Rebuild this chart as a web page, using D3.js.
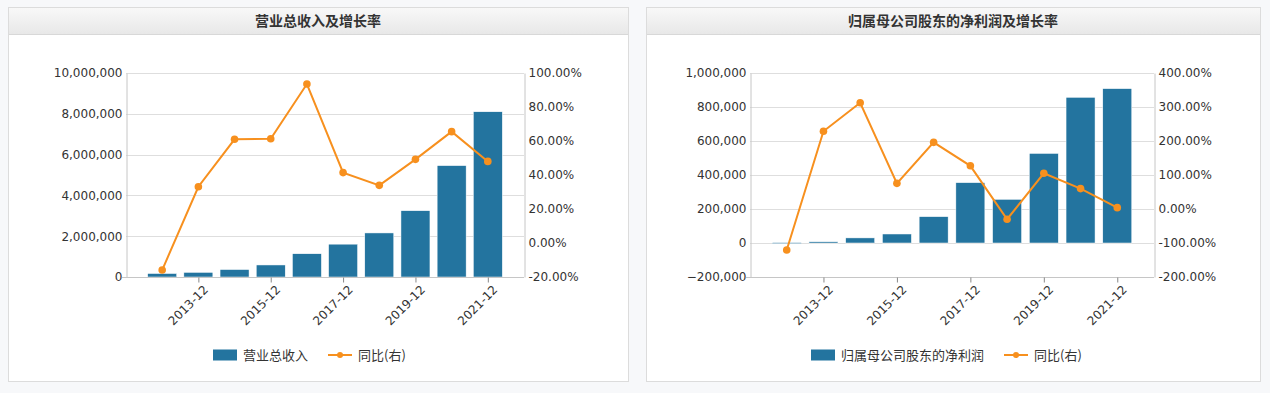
<!DOCTYPE html>
<html>
<head>
<meta charset="utf-8">
<script src="https://cdn.jsdelivr.net/npm/d3@7/dist/d3.min.js"></script>
<style>
    body { margin: 0; background: #f7f8fa; }
    svg { display: block; }
    text { font-family: "DejaVu Sans", Verdana, sans-serif; fill: #333; }
    .cjk { font-family: "Noto Sans CJK SC", "DejaVu Sans", sans-serif; }
</style>
</head>
<body>
<svg id="chart" width="1270" height="393"></svg>
<script>
const years = ['2012-12', '2013-12', '2014-12', '2015-12', '2016-12', '2017-12', '2018-12', '2019-12', '2020-12', '2021-12'];
const tickYears = ['2013-12', '2015-12', '2017-12', '2019-12', '2021-12'];

// 营业总收入
const revenue = [171000, 227000, 366000, 590000, 1140000, 1610000, 2160000, 3250000, 5460000, 8100000];
const revenueGrowth = [-15.9, 33.1, 61.0, 61.3, 93.5, 41.4, 33.9, 49.2, 65.5, 48.0];
const revenueTicks = [0, 2000000, 4000000, 6000000, 8000000, 10000000];
const revenueGrowthTicks = [-20, 0, 20, 40, 60, 80, 100];

// 归属母公司股东的净利润
const profit = [2200, 7300, 30000, 53000, 155000, 355000, 257000, 527000, 857000, 908000];
const profitGrowth = [-120.6, 228.5, 312.6, 75.5, 196.0, 127.0, -30.0, 105.0, 60.0, 4.0];
const profitTicks = [-200000, 0, 200000, 400000, 600000, 800000, 1000000];
const profitGrowthTicks = [-200, -100, 0, 100, 200, 300, 400];

const colors = {
    bar: '#23749f',
    line: '#f7901e',
    grid: '#dedede',
    axis: '#c6c6c6',
    border: '#dcdcdc'
};

const svg = d3.select('#chart');
const defs = svg.append('defs');
const grad = defs.append('linearGradient').attr('id', 'hdr').attr('x1', 0).attr('x2', 0).attr('y1', 0).attr('y2', 1);
grad.append('stop').attr('offset', '0%').attr('stop-color', '#f8f8f8');
grad.append('stop').attr('offset', '100%').attr('stop-color', '#e8e8e8');

function drawPanel(opt) {
    let g = svg.append('g');
    // panel frame + header
    g.append('rect')
        .attr('x', opt.x + 0.5).attr('y', 7.5)
        .attr('width', opt.w).attr('height', 374)
        .attr('fill', '#fff').attr('stroke', colors.border);
    g.append('rect')
        .attr('x', opt.x + 1).attr('y', 8)
        .attr('width', opt.w - 1).attr('height', 26)
        .attr('fill', 'url(#hdr)');
    g.append('line')
        .attr('x1', opt.x + 1).attr('x2', opt.x + opt.w)
        .attr('y1', 34.5).attr('y2', 34.5)
        .attr('stroke', '#d8d8d8');
    g.append('text')
        .attr('class', 'cjk')
        .attr('x', opt.x + opt.w / 2).attr('y', 26)
        .attr('text-anchor', 'middle')
        .style('font-size', '14px').style('font-weight', 'bold')
        .text(opt.title);

    const top = 73, bottom = 277;
    let x = d3.scalePoint().domain(years).range([opt.left, opt.right]).padding(1);
    let yL = d3.scaleLinear().domain(d3.extent(opt.leftTicks)).range([bottom, top]);
    let yR = d3.scaleLinear().domain(d3.extent(opt.rightTicks)).range([bottom, top]);

    // grid
    g.append('g').selectAll('line').data(opt.leftTicks.slice(1)).join('line')
        .attr('x1', opt.left).attr('x2', opt.right)
        .attr('y1', d => Math.round(yL(d)) + 0.5).attr('y2', d => Math.round(yL(d)) + 0.5)
        .attr('stroke', colors.grid);

    // left axis
    let axL = g.append('g').attr('transform', `translate(${opt.left + 0.5},0)`)
        .call(d3.axisLeft(yL).tickValues(opt.leftTicks).tickSize(0).tickPadding(4)
            .tickFormat(d3.format(',')));
    axL.select('.domain').attr('stroke', colors.axis);
    axL.selectAll('text').style('font-size', '12px').attr('font-family', null);

    // right axis
    let axR = g.append('g').attr('transform', `translate(${opt.right + 0.5},0)`)
        .call(d3.axisRight(yR).tickValues(opt.rightTicks).tickSize(0).tickPadding(4)
            .tickFormat(d => d.toFixed(2) + '%'));
    axR.select('.domain').attr('stroke', colors.axis);
    axR.selectAll('text').style('font-size', '12px').attr('font-family', null);

    // bars
    const bw = 29;
    g.append('g').selectAll('rect').data(opt.bars).join('rect')
        .attr('x', (d, i) => x(years[i]) - bw / 2)
        .attr('width', bw)
        .attr('y', d => Math.min(yL(d), yL(0)))
        .attr('height', d => Math.max(1, Math.abs(yL(d) - yL(0))))
        .attr('fill', colors.bar)
        .attr('stroke', '#fff').attr('stroke-width', 0.5);

    // bottom axis
    let axB = g.append('g').attr('transform', `translate(0,${bottom + 0.5})`)
        .call(d3.axisBottom(x).tickValues(tickYears).tickSize(5).tickSizeOuter(0).tickFormat(d => d));
    axB.select('.domain').attr('stroke', colors.axis)
        .attr('d', `M${opt.left - 4},0H${opt.right}`);
    axB.selectAll('.tick line').attr('stroke', '#888');
    axB.selectAll('text')
        .attr('font-family', null)
        .style('font-size', '12px')
        .attr('text-anchor', 'end')
        .attr('transform', 'translate(4,7) rotate(-45)')
        .attr('x', 0).attr('y', 0).attr('dy', '0.7em');

    // growth line
    let line = d3.line().x((d, i) => x(years[i])).y(d => yR(d));
    g.append('path').datum(opt.growth)
        .attr('d', line).attr('fill', 'none')
        .attr('stroke', colors.line).attr('stroke-width', 2);
    g.append('g').selectAll('circle').data(opt.growth).join('circle')
        .attr('cx', (d, i) => x(years[i])).attr('cy', d => yR(d))
        .attr('r', 3.8).attr('fill', colors.line);

    // legend
    let lg = g.append('g').attr('transform', `translate(${opt.legendX},355)`);
    lg.append('rect').attr('x', 0).attr('y', -5.5).attr('width', 24).attr('height', 11).attr('fill', colors.bar);
    let t1 = lg.append('text').attr('class', 'cjk').attr('x', 30).attr('dy', '0.35em')
        .style('font-size', '13px').text(opt.barName);
    let w1 = t1.node().getComputedTextLength();
    let lx = 30 + w1 + 20;
    lg.append('line').attr('x1', lx).attr('x2', lx + 24).attr('y1', 0).attr('y2', 0)
        .attr('stroke', colors.line).attr('stroke-width', 2);
    lg.append('circle').attr('cx', lx + 12).attr('cy', 0).attr('r', 3).attr('fill', colors.line);
    lg.append('text').attr('class', 'cjk').attr('x', lx + 30).attr('dy', '0.35em')
        .style('font-size', '13px').text('同比(右)');
}

drawPanel({
    x: 8, w: 620, title: '营业总收入及增长率',
    left: 126, right: 524,
    leftTicks: revenueTicks, rightTicks: revenueGrowthTicks,
    bars: revenue, growth: revenueGrowth,
    barName: '营业总收入', legendX: 213
});

drawPanel({
    x: 646, w: 614, title: '归属母公司股东的净利润及增长率',
    left: 750, right: 1154,
    leftTicks: profitTicks, rightTicks: profitGrowthTicks,
    bars: profit, growth: profitGrowth,
    barName: '归属母公司股东的净利润', legendX: 811
});
</script>
</body>
</html>
